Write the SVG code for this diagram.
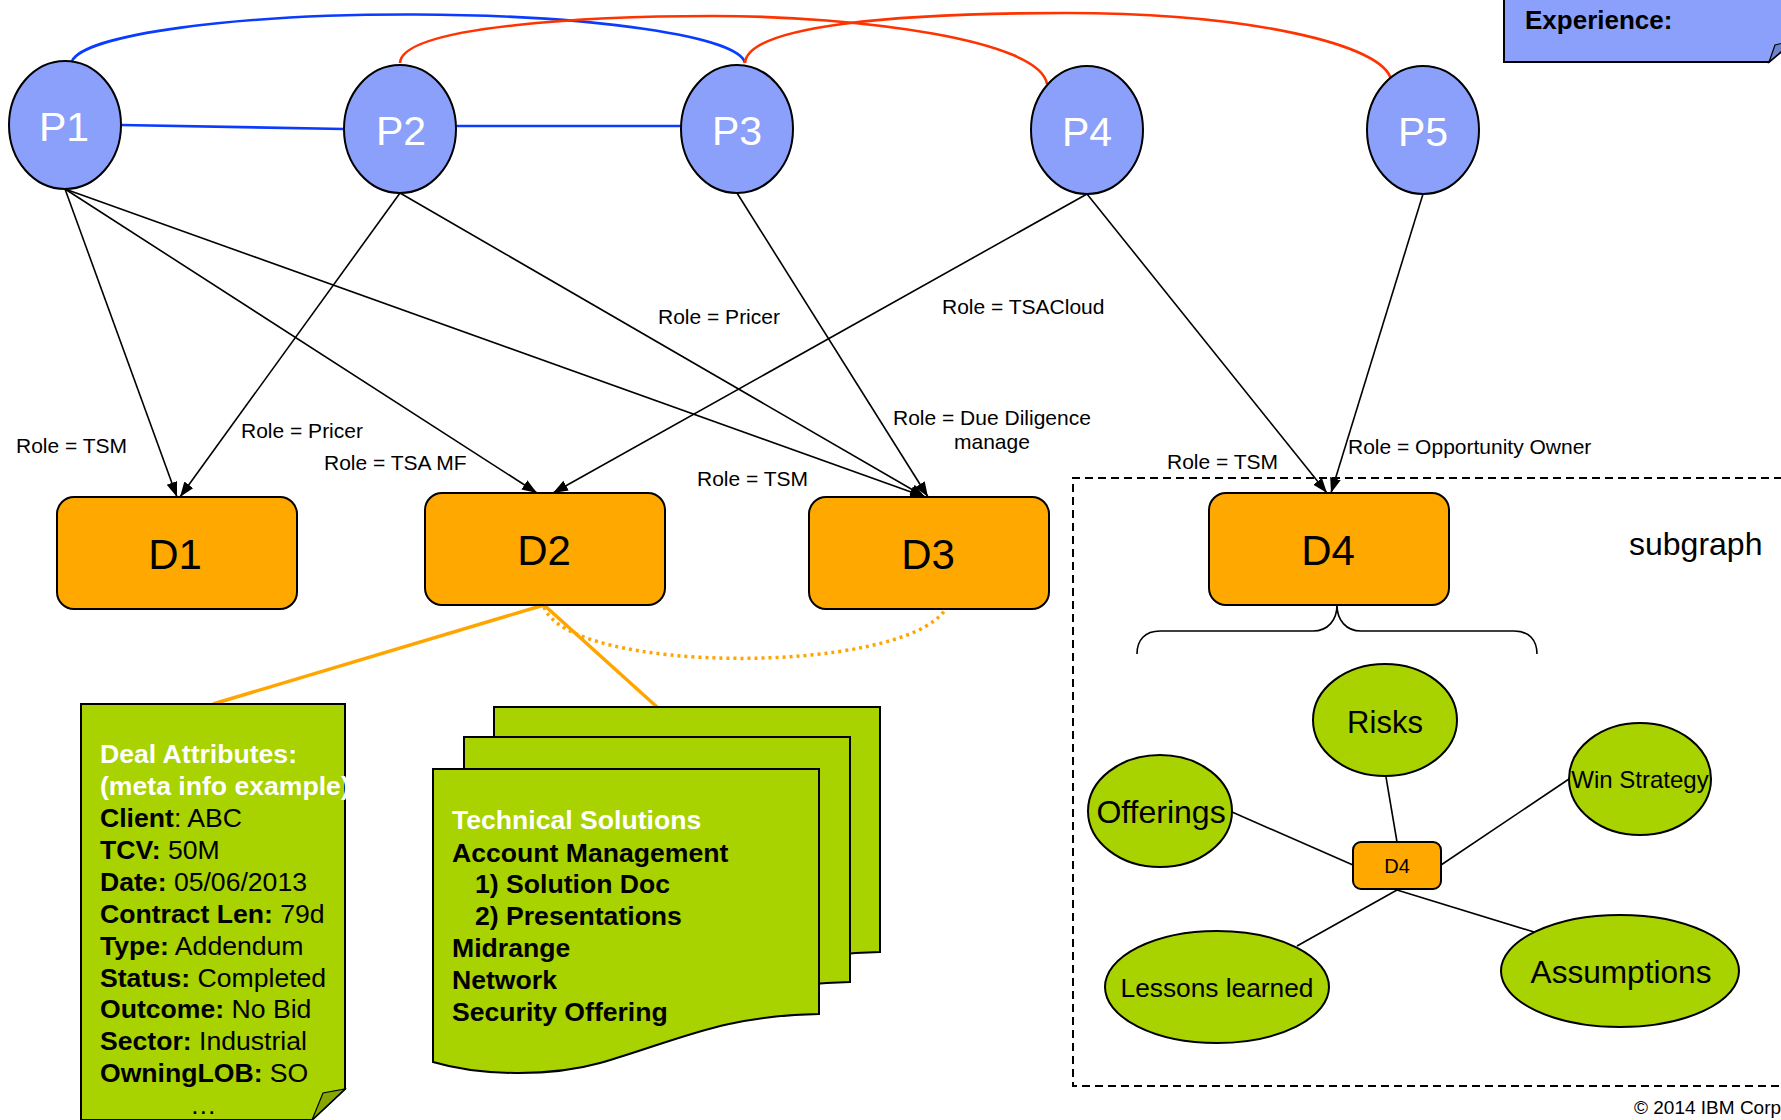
<svg xmlns="http://www.w3.org/2000/svg" width="1781" height="1120" viewBox="0 0 1781 1120">
<style>
  text { font-family: "Liberation Sans", Arial, sans-serif; }
  .pnode { fill: #8aa0fa; stroke: #000; stroke-width: 2; }
  .plabel { fill: #fff; font-size: 41px; text-anchor: middle; }
  .dnode { fill: #ffa800; stroke: #000; stroke-width: 2; }
  .dlabel { fill: #000; font-size: 42px; text-anchor: middle; }
  .gnode { fill: #a8d200; stroke: #000; stroke-width: 2; }
  .glabel { fill: #000; text-anchor: middle; }
  .edge { stroke: #000; stroke-width: 1.6; fill: none; }
  .edgeA { stroke: #000; stroke-width: 1.6; fill: none; marker-end: url(#arrow); }
  .role { font-size: 21px; fill: #000; }
  .blue { stroke: #0a3cff; stroke-width: 2.6; fill: none; }
  .red { stroke: #ff3300; stroke-width: 2.6; fill: none; }
  .orange { stroke: #ffa500; stroke-width: 3.5; fill: none; }
  .dotted { stroke: #ffa500; stroke-width: 3.5; fill: none; stroke-dasharray: 3 4; }
  .note { fill: #a8d200; stroke: #000; stroke-width: 2; }
  .fold { fill: #86a600; stroke: #000; stroke-width: 1.2; }
  .notetext { font-size: 26.6px; fill: #000; }
  .b { font-weight: bold; }
  .w { fill: #fff; font-weight: bold; }
</style>
<defs>
  <marker id="arrow" markerUnits="userSpaceOnUse" markerWidth="16" markerHeight="12" refX="15" refY="5.5" orient="auto">
    <path d="M0,0 L15,5.5 L0,11 z" fill="#000"/>
  </marker>
  <path id="sheet" d="M0,0 H386 V245 C287,247 247,271 167,294 C117,308 47,307 0,293 Z"/>
</defs>

<rect width="1781" height="1120" fill="#fff"/>

<!-- Experience note (top right) -->
<g id="experience-note">
  <path d="M1504,-5 H1795 V40 L1769,62 H1504 Z" fill="#8aa0fa" stroke="#000" stroke-width="2"/>
  <path d="M1769,62 L1775,45 L1795,40 Z" fill="#6f82cc" stroke="#000" stroke-width="1.2"/>
  <text x="1525" y="29" font-size="26" font-weight="bold" fill="#000">Experience:</text>
</g>

<!-- Subgraph frame -->
<g id="subgraph-frame">
  <path d="M1795,478 H1073 V1086 H1795" fill="none" stroke="#000" stroke-width="2" stroke-dasharray="8 5"/>
  <text x="1629" y="555" font-size="32" fill="#000">subgraph</text>
</g>

<!-- Connectors -->
<g id="connectors">
  <!-- people links -->
  <path class="blue" d="M72,61 A337,50 0 0 1 745,63"/>
  <path class="red" d="M400,63 C402,25 600,16 713,16 C860,16 1040,40 1047,84"/>
  <path class="red" d="M745,63 C748,25 900,13 1066,13 C1250,13 1385,45 1391,80"/>
  <line class="blue" x1="121" y1="125" x2="344" y2="129"/>
  <line class="blue" x1="456" y1="126" x2="681" y2="126"/>
  <!-- roles -->
  <line class="edgeA" x1="65" y1="189" x2="177" y2="497"/>
  <line class="edgeA" x1="400" y1="193" x2="180" y2="497"/>
  <line class="edgeA" x1="65" y1="189" x2="537" y2="493"/>
  <line class="edgeA" x1="1087" y1="194" x2="553" y2="493"/>
  <line class="edgeA" x1="65" y1="189" x2="925" y2="497"/>
  <line class="edgeA" x1="400" y1="193" x2="925" y2="497"/>
  <line class="edgeA" x1="737" y1="193" x2="928" y2="497"/>
  <line class="edgeA" x1="1087" y1="194" x2="1327" y2="493"/>
  <line class="edgeA" x1="1423" y1="194" x2="1331" y2="493"/>
  <!-- D2 links -->
  <line class="orange" x1="544" y1="605" x2="213" y2="704"/>
  <line class="orange" x1="544" y1="605" x2="657" y2="707"/>
  <path class="dotted" d="M544,607 C570,675 900,675 945,610"/>
  <!-- brace -->
  <path class="edge" stroke-width="2" d="M1137,654 C1137,640 1145,631 1160,631 H1313 C1328,631 1337,620 1337,605 C1337,620 1346,631 1361,631 H1514 C1529,631 1537,640 1537,654"/>
  <!-- subgraph spokes -->
  <line class="edge" x1="1386" y1="777" x2="1397" y2="842"/>
  <line class="edge" x1="1232" y1="812" x2="1353" y2="865"/>
  <line class="edge" x1="1569" y1="779" x2="1441" y2="865"/>
  <line class="edge" x1="1397" y1="890" x2="1297" y2="946"/>
  <line class="edge" x1="1397" y1="890" x2="1534" y2="932"/>
</g>

<!-- Role labels -->
<g id="role-labels">
  <text class="role" x="16" y="453">Role = TSM</text>
  <text class="role" x="241" y="438">Role = Pricer</text>
  <text class="role" x="324" y="470">Role = TSA MF</text>
  <text class="role" x="658" y="324">Role = Pricer</text>
  <text class="role" x="697" y="486">Role = TSM</text>
  <text class="role" x="942" y="314">Role = TSACloud</text>
  <text class="role" x="893" y="425">Role = Due Diligence</text>
  <text class="role" x="954" y="449">manage</text>
  <text class="role" x="1167" y="469">Role = TSM</text>
  <text class="role" x="1348" y="454">Role = Opportunity Owner</text>
</g>

<!-- People nodes -->
<g id="P1"><ellipse class="pnode" cx="65" cy="125" rx="56" ry="64"/><text class="plabel" x="64" y="141">P1</text></g>
<g id="P2"><ellipse class="pnode" cx="400" cy="129" rx="56" ry="64"/><text class="plabel" x="401" y="145">P2</text></g>
<g id="P3"><ellipse class="pnode" cx="737" cy="129" rx="56" ry="64"/><text class="plabel" x="737" y="145">P3</text></g>
<g id="P4"><ellipse class="pnode" cx="1087" cy="130" rx="56" ry="64"/><text class="plabel" x="1087" y="146">P4</text></g>
<g id="P5"><ellipse class="pnode" cx="1423" cy="130" rx="56" ry="64"/><text class="plabel" x="1423" y="146">P5</text></g>

<!-- Deal nodes -->
<g id="D1"><rect class="dnode" x="57" y="497" width="240" height="112" rx="17"/><text class="dlabel" x="175" y="569">D1</text></g>
<g id="D2"><rect class="dnode" x="425" y="493" width="240" height="112" rx="17"/><text class="dlabel" x="544" y="565">D2</text></g>
<g id="D3"><rect class="dnode" x="809" y="497" width="240" height="112" rx="17"/><text class="dlabel" x="928" y="569">D3</text></g>
<g id="D4"><rect class="dnode" x="1209" y="493" width="240" height="112" rx="17"/><text class="dlabel" x="1328" y="565">D4</text></g>

<!-- Deal attributes note -->
<g id="deal-attributes">
  <path class="note" d="M81,704 H345 V1089 L312,1120 H81 Z"/>
  <path class="fold" d="M312,1120 L323,1093 L345,1089 Z"/>
  <text class="notetext" x="100">
    <tspan class="w" x="100" y="763">Deal Attributes:</tspan>
    <tspan class="w" x="100" y="795">(meta info example)</tspan>
    <tspan x="100" y="827"><tspan class="b">Client</tspan>: ABC</tspan>
    <tspan x="100" y="859"><tspan class="b">TCV:</tspan> 50M</tspan>
    <tspan x="100" y="891"><tspan class="b">Date:</tspan> 05/06/2013</tspan>
    <tspan x="100" y="923"><tspan class="b">Contract Len:</tspan> 79d</tspan>
    <tspan x="100" y="955"><tspan class="b">Type:</tspan> Addendum</tspan>
    <tspan x="100" y="987"><tspan class="b">Status:</tspan> Completed</tspan>
    <tspan x="100" y="1018"><tspan class="b">Outcome:</tspan> No Bid</tspan>
    <tspan x="100" y="1050"><tspan class="b">Sector:</tspan> Industrial</tspan>
    <tspan x="100" y="1082"><tspan class="b">OwningLOB:</tspan> SO</tspan>
    <tspan x="190" y="1114">…</tspan>
  </text>
</g>

<!-- Technical solutions stacked documents -->
<g id="technical-solutions">
  <use href="#sheet" class="note" transform="translate(494,707)"/>
  <use href="#sheet" class="note" transform="translate(464,737)"/>
  <use href="#sheet" class="note" transform="translate(433,769)"/>
  <text class="notetext b" x="452">
    <tspan class="w" x="452" y="829">Technical Solutions</tspan>
    <tspan x="452" y="862">Account Management</tspan>
    <tspan x="475" y="893">1) Solution Doc</tspan>
    <tspan x="475" y="925">2) Presentations</tspan>
    <tspan x="452" y="957">Midrange</tspan>
    <tspan x="452" y="989">Network</tspan>
    <tspan x="452" y="1021">Security Offering</tspan>
  </text>
</g>

<!-- Subgraph nodes -->
<g id="Risks"><ellipse class="gnode" cx="1385" cy="720" rx="72" ry="56"/><text class="glabel" x="1385" y="733" font-size="31">Risks</text></g>
<g id="Offerings"><ellipse class="gnode" cx="1160" cy="811" rx="72" ry="56"/><text class="glabel" x="1161" y="823" font-size="32">Offerings</text></g>
<g id="WinStrategy"><ellipse class="gnode" cx="1640" cy="779" rx="71" ry="56"/><text class="glabel" x="1640" y="788" font-size="24">Win Strategy</text></g>
<g id="LessonsLearned"><ellipse class="gnode" cx="1217" cy="987" rx="112" ry="56"/><text class="glabel" x="1217" y="997" font-size="26.3">Lessons learned</text></g>
<g id="Assumptions"><ellipse class="gnode" cx="1620" cy="971" rx="119" ry="56"/><text class="glabel" x="1621" y="983" font-size="31.6">Assumptions</text></g>
<g id="D4-small"><rect class="dnode" x="1353" y="842" width="88" height="47" rx="8"/><text class="glabel" x="1397" y="873" font-size="20">D4</text></g>

<g id="copyright">
  <text x="1634" y="1114" font-size="19" fill="#000">© 2014 IBM Corp</text>
</g>
</svg>
